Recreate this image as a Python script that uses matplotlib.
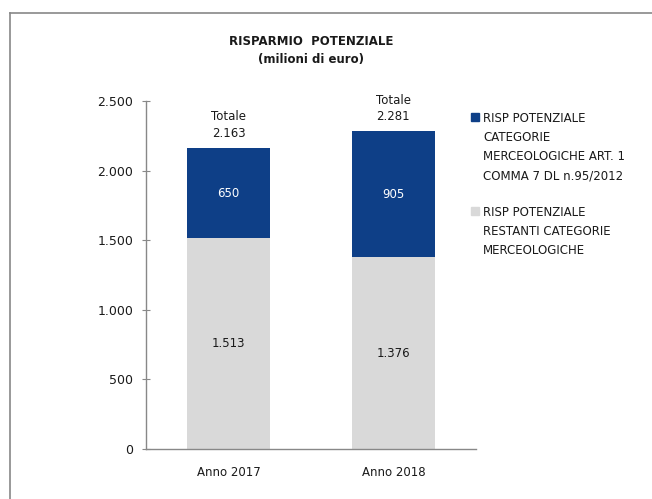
import matplotlib.pyplot as plt
from matplotlib.patches import Rectangle
from matplotlib.lines import Line2D
from matplotlib.ticker import FuncFormatter

# data (milioni di euro)
anni = ["Anno 2017", "Anno 2018"]
restanti = [1513, 1376]
art1 = [650, 905]
legenda = ["RISP POTENZIALE\nCATEGORIE\nMERCEOLOGICHE ART. 1\nCOMMA 7 DL n.95/2012",
           "RISP POTENZIALE\nRESTANTI CATEGORIE\nMERCEOLOGICHE"]

blu = "#0E3F87"
grigio = "#D9D9D9"
testo = "#1a1a1a"

def it_fmt(v):
    return f"{int(round(v)):,}".replace(",", ".")

plt.rcParams['font.family'] = ['DejaVu Sans']
fig = plt.figure(figsize=(6.52, 4.99), dpi=100)
ax = fig.add_axes([0.2239, 0.1002, 0.506, 0.6974])

x = range(len(anni))
ax.bar(x, restanti, width=0.5, color=grigio)
ax.bar(x, art1, width=0.5, bottom=restanti, color=blu)

for i in x:
    ax.text(i, restanti[i] / 2, it_fmt(restanti[i]), ha="center", va="center",
            fontsize=8.5, color=testo)
    ax.text(i, restanti[i] + art1[i] / 2, it_fmt(art1[i]), ha="center", va="center",
            fontsize=8.5, color="white")
    tot = restanti[i] + art1[i]
    ax.annotate("Totale\n" + it_fmt(tot), (i, tot), xytext=(0, 6),
                textcoords="offset points", ha="center", va="bottom",
                fontsize=8.5, color=testo, linespacing=1.35)

ax.set_ylim(0, 2500)
ax.set_xlim(-0.5, 1.5)
ax.set_yticks(range(0, 2501, 500))
ax.yaxis.set_major_formatter(FuncFormatter(lambda v, p: it_fmt(v)))
ax.set_xticks(list(x))
ax.set_xticklabels(anni)
ax.tick_params(axis="x", length=0, pad=12, labelsize=8.5, colors=testo)
ax.tick_params(axis="y", direction="inout", length=6, width=0.8, color="#888888",
               labelsize=9, labelcolor=testo, pad=6)
for s in ["top", "right"]:
    ax.spines[s].set_visible(False)
for s in ["left", "bottom"]:
    ax.spines[s].set_color("#888888")
    ax.spines[s].set_linewidth(1.0)

# title
fig.text(0.477, 0.898, "RISPARMIO  POTENZIALE\n(milioni di euro)", ha="center",
         va="center", fontsize=8.5, fontweight="bold", color=testo, linespacing=1.5)

# legend
colori = [blu, grigio]
ytops = [0.775, 0.587]
for lab, c, yt in zip(legenda, colori, ytops):
    fig.patches.append(Rectangle((0.7225, yt - 0.017), 0.0115, 0.015,
                                 transform=fig.transFigure, color=c))
    fig.text(0.741, yt, lab, ha="left", va="top", fontsize=8.5, color=testo,
             linespacing=1.6)

# outer frame
fig.add_artist(Line2D([0.0153, 0.0153], [0, 0.974], transform=fig.transFigure,
                      color="#888888", lw=1.2))
fig.add_artist(Line2D([0.0153, 1], [0.974, 0.974], transform=fig.transFigure,
                      color="#888888", lw=1.2))

fig.savefig("out.png", dpi=100)
